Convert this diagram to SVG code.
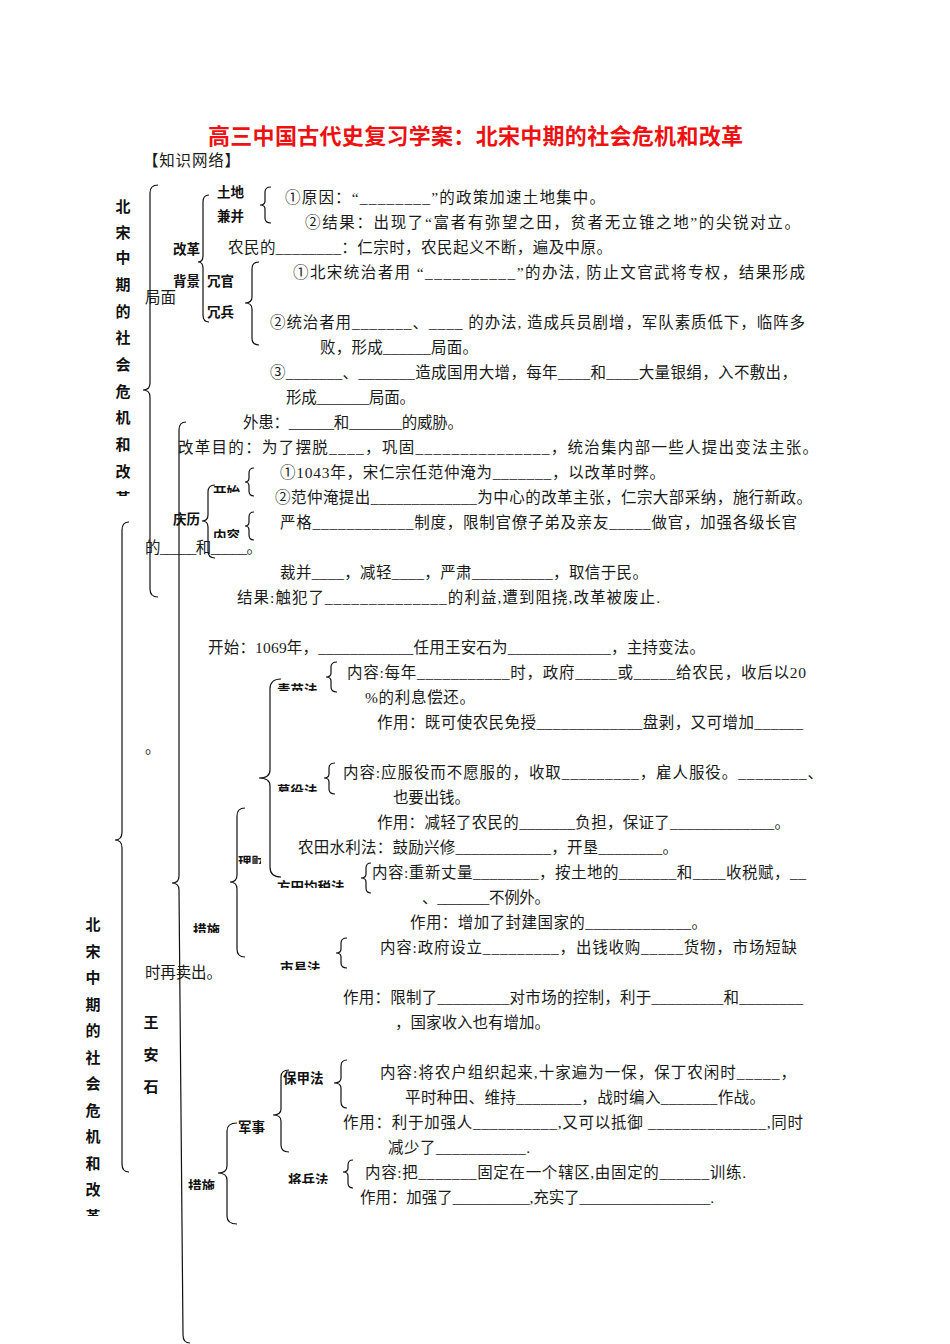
<svg xmlns="http://www.w3.org/2000/svg" width="950" height="1344" viewBox="0 0 950 1344">
<style>
.t{font-family:"Liberation Serif","Noto Sans CJK SC",serif;font-size:15.5px;fill:#1a1a1a}
.lb{font-family:"Noto Sans CJK SC",sans-serif;font-size:13.5px;font-weight:bold;fill:#111}
.v{font-family:"Noto Sans CJK SC",sans-serif;font-size:15px;font-weight:bold;fill:#111;text-anchor:middle}
.title{font-family:"Noto Sans CJK SC",sans-serif;font-size:22px;font-weight:bold;fill:#ee1111}
.br{fill:none;stroke:#111;stroke-width:1.2}
</style>
<defs>
<clipPath id="c1"><rect x="100" y="180" width="60" height="316"/></clipPath>
<clipPath id="c2"><rect x="70" y="900" width="60" height="316"/></clipPath>
<clipPath id="k1"><rect x="205" y="470" width="45" height="23"/></clipPath>
<clipPath id="k2"><rect x="205" y="520" width="45" height="18"/></clipPath>
<clipPath id="k3"><rect x="270" y="670" width="55" height="21"/></clipPath>
<clipPath id="k4"><rect x="270" y="770" width="55" height="22"/></clipPath>
<clipPath id="k5"><rect x="236" y="845" width="25" height="19"/></clipPath>
<clipPath id="k6"><rect x="270" y="870" width="90" height="18"/></clipPath>
<clipPath id="k7"><rect x="185" y="910" width="45" height="23"/></clipPath>
<clipPath id="k8"><rect x="270" y="950" width="60" height="20"/></clipPath>
<clipPath id="k9"><rect x="280" y="1160" width="60" height="24"/></clipPath>
<clipPath id="k10"><rect x="180" y="1165" width="45" height="25"/></clipPath>
</defs>
<rect width="950" height="1344" fill="#fff"/>

<g id="title"><text class="title" x="208" y="144" textLength="535" lengthAdjust="spacing">高三中国古代史复习学案：北宋中期的社会危机和改革</text></g>
<g id="subtitle"><text class="t" x="143" y="166" font-size="15.5" textLength="97" lengthAdjust="spacing">【知识网络】</text></g>

<g id="vertical-1" clip-path="url(#c1)">
<text class="v" x="123" y="212">北</text><text class="v" x="123" y="238">宋</text><text class="v" x="123" y="263">中</text><text class="v" x="123" y="290">期</text><text class="v" x="123" y="317">的</text><text class="v" x="123" y="343">社</text><text class="v" x="123" y="370">会</text><text class="v" x="123" y="397">危</text><text class="v" x="123" y="423">机</text><text class="v" x="123" y="450">和</text><text class="v" x="123" y="477">改</text><text class="v" x="123" y="504">革</text>
</g>
<g id="vertical-2" clip-path="url(#c2)">
<text class="v" x="93" y="930">北</text><text class="v" x="93" y="957">宋</text><text class="v" x="93" y="983">中</text><text class="v" x="93" y="1010">期</text><text class="v" x="93" y="1036">的</text><text class="v" x="93" y="1063">社</text><text class="v" x="93" y="1089">会</text><text class="v" x="93" y="1116">危</text><text class="v" x="93" y="1142">机</text><text class="v" x="93" y="1169">和</text><text class="v" x="93" y="1195">改</text><text class="v" x="93" y="1222">革</text>
</g>
<g id="wanganshi">
<text class="v" x="151" y="1028">王</text><text class="v" x="151" y="1060">安</text><text class="v" x="151" y="1092">石</text>
</g>

<g id="labels">
<text class="lb" x="217" y="197">土地</text>
<text class="lb" x="217" y="221">兼并</text>
<text class="lb" x="173" y="254">改革</text>
<text class="lb" x="173" y="286">背景</text>
<text class="lb" x="207" y="286">冗官</text>
<text class="lb" x="207" y="317">冗兵</text>
<text class="lb" x="173" y="524">庆历</text>
<text class="lb" x="213" y="497" clip-path="url(#k1)">开始</text>
<text class="lb" x="213" y="541" clip-path="url(#k2)">内容</text>
<text class="lb" x="277" y="695" clip-path="url(#k3)">青苗法</text>
<text class="lb" x="277" y="796" clip-path="url(#k4)">募役法</text>
<text class="lb" x="238" y="867" clip-path="url(#k5)">理财</text>
<text class="lb" x="277" y="892" clip-path="url(#k6)">方田均税法</text>
<text class="lb" x="193" y="935" clip-path="url(#k7)">措施</text>
<text class="lb" x="280" y="973" clip-path="url(#k8)">市易法</text>
<text class="lb" x="283" y="1083">保甲法</text>
<text class="lb" x="238" y="1132">军事</text>
<text class="lb" x="288" y="1185" clip-path="url(#k9)">将兵法</text>
<text class="lb" x="188" y="1191" clip-path="url(#k10)">措施</text>
</g>

<g id="content">
<text class="t" x="285" y="202.5" textLength="320" lengthAdjust="spacing">①原因：“________”的政策加速土地集中。</text>
<text class="t" x="305" y="227.5" textLength="495" lengthAdjust="spacing">②结果：出现了“富者有弥望之田，贫者无立锥之地”的尖锐对立。</text>
<text class="t" x="228" y="252.5" textLength="384" lengthAdjust="spacing">农民的________：仁宗时，农民起义不断，遍及中原。</text>
<text class="t" x="293" y="277.5" textLength="512" lengthAdjust="spacing">①北宋统治者用 “__________”的办法, 防止文官武将专权，结果形成</text>
<text class="t" x="145" y="302.5">局面</text>
<text class="t" x="270" y="327.5" textLength="535" lengthAdjust="spacing">②统治者用_______、____ 的办法, 造成兵员剧增，军队素质低下，临阵多</text>
<text class="t" x="320" y="352.5" textLength="158" lengthAdjust="spacing">败，形成______局面。</text>
<text class="t" x="270" y="377.5" textLength="527" lengthAdjust="spacing">③_______、_______造成国用大增，每年____和____大量银绢，入不敷出，</text>
<text class="t" x="286" y="402.5" textLength="129" lengthAdjust="spacing">形成_______局面。</text>
<text class="t" x="243" y="427.5" textLength="220" lengthAdjust="spacing">外患：______和_______的威胁。</text>
<text class="t" x="178" y="452.5" textLength="640" lengthAdjust="spacing">改革目的：为了摆脱____，巩固_______________，统治集内部一些人提出变法主张。</text>
<text class="t" x="280" y="477.5" textLength="385" lengthAdjust="spacing">①1043年，宋仁宗任范仲淹为_______，以改革时弊。</text>
<text class="t" x="275" y="502.5" textLength="537" lengthAdjust="spacing">②范仲淹提出_____________为中心的改革主张，仁宗大部采纳，施行新政。</text>
<text class="t" x="280" y="527.5" textLength="517" lengthAdjust="spacing">严格____________制度，限制官僚子弟及亲友_____做官，加强各级长官</text>
<text class="t" x="145" y="553" textLength="117" lengthAdjust="spacing">的_____和_____。</text>
<text class="t" x="280" y="577.5" textLength="368" lengthAdjust="spacing">裁并____，减轻____，严肃__________，取信于民。</text>
<text class="t" x="237" y="602.5" textLength="423" lengthAdjust="spacing">结果:触犯了______________的利益,遭到阻挠,改革被废止.</text>
<text class="t" x="208" y="652.5" textLength="497" lengthAdjust="spacing">开始：1069年，____________任用王安石为_____________，主持变法。</text>
<text class="t" x="347" y="677.5" textLength="459" lengthAdjust="spacing">内容:每年___________时，政府_____或_____给农民，收后以20</text>
<text class="t" x="365" y="702.5" textLength="110" lengthAdjust="spacing">%的利息偿还。</text>
<text class="t" x="377" y="727.5" textLength="426" lengthAdjust="spacing">作用：既可使农民免授_____________盘剥，又可增加______</text>
<text class="t" x="145" y="752.5">。</text>
<text class="t" x="343" y="777.5" textLength="480" lengthAdjust="spacing">内容:应服役而不愿服的，收取_________，雇人服役。________、</text>
<text class="t" x="393" y="802.5" textLength="77" lengthAdjust="spacing">也要出钱。</text>
<text class="t" x="377" y="827.5" textLength="413" lengthAdjust="spacing">作用：减轻了农民的_______负担，保证了_____________。</text>
<text class="t" x="298" y="852.5" textLength="380" lengthAdjust="spacing">农田水利法：鼓励兴修____________，开垦________。</text>
<text class="t" x="372" y="877.5" textLength="434" lengthAdjust="spacing">内容:重新丈量________，按土地的_______和____收税赋，__</text>
<text class="t" x="422" y="902.5" textLength="128" lengthAdjust="spacing">、_______不例外。</text>
<text class="t" x="410" y="927.5" textLength="297" lengthAdjust="spacing">作用：增加了封建国家的_____________。</text>
<text class="t" x="380" y="952.5" textLength="417" lengthAdjust="spacing">内容:政府设立_________，出钱收购_____货物，市场短缺</text>
<text class="t" x="145" y="977.5" textLength="77" lengthAdjust="spacing">时再卖出。</text>
<text class="t" x="343" y="1002.5" textLength="460" lengthAdjust="spacing">作用：限制了_________对市场的控制，利于_________和________</text>
<text class="t" x="395" y="1027.5" textLength="155" lengthAdjust="spacing">，国家收入也有增加。</text>
<text class="t" x="380" y="1077.5" textLength="416" lengthAdjust="spacing">内容:将农户组织起来,十家遍为一保，保丁农闲时_____，</text>
<text class="t" x="405" y="1102.5" textLength="360" lengthAdjust="spacing">平时种田、维持________，战时编入_______作战。</text>
<text class="t" x="343" y="1127.5" textLength="460" lengthAdjust="spacing">作用：利于加强人__________,又可以抵御 ______________,同时</text>
<text class="t" x="388" y="1152.5" textLength="142" lengthAdjust="spacing">减少了___________.</text>
<text class="t" x="365" y="1177.5" textLength="381" lengthAdjust="spacing">内容:把_______固定在一个辖区,由固定的______训练.</text>
<text class="t" x="360" y="1202.5" textLength="354" lengthAdjust="spacing">作用：加强了__________,充实了_________________.</text>
</g>

<g id="connectors">
<path class="br" d="M158 185 Q150 185 150 193 L150 383 Q150 390 143 390 Q150 390 150 397 L150 589 Q150 597 158 597"/>
<path class="br" d="M129 522 Q122 522 122 530 L122 832 Q122 840 115 840 Q122 840 122 848 L122 1164 Q122 1172 129 1172"/>
<path class="br" d="M186 422 Q179 422 179 430 L179 876 Q179 883 172 883 Q179 883 179 890 L183 1335 Q183 1343 190 1343"/>
<path class="br" d="M209 195 Q203 195 203 202 L203 256 Q203 262 198 262 Q203 262 203 268 L203 315 Q203 322 209 322"/>
<path class="br" d="M271 187 Q265 187 265 192 L265 201 Q265 205 260 205 Q265 205 265 209 L265 218 Q265 223 271 223"/>
<path class="br" d="M259 262 Q252 262 252 269 L252 297 Q252 303 245 303 Q252 303 252 309 L252 338 Q252 345 259 345"/>
<path class="br" d="M215 485 Q208 485 208 492 L208 515 Q208 521 202 521 Q208 521 208 527 L208 551 Q208 558 215 558"/>
<path class="br" d="M254 468 Q249 468 249 473 L249 478 Q249 482 245 482 Q249 482 249 486 L249 491 Q249 496 254 496"/>
<path class="br" d="M254 512 Q249 512 249 517 L249 522 Q249 526 245 526 Q249 526 249 530 L249 535 Q249 540 254 540"/>
<path class="br" d="M281 679 Q270 679 270 689 L270 770 Q270 778 259 778 Q270 778 270 786 L270 867 Q270 877 281 877"/>
<path class="br" d="M245 808 Q237 808 237 816 L237 875 Q237 882 230 882 Q237 882 237 889 L237 949 Q237 957 245 957"/>
<path class="br" d="M337 662 Q331 662 331 667 L331 673 Q331 677 326 677 Q331 677 331 681 L331 687 Q331 692 337 692"/>
<path class="br" d="M335 763 Q329 763 329 768 L329 774 Q329 778 324 778 Q329 778 329 782 L329 789 Q329 794 335 794"/>
<path class="br" d="M371 863 Q366 863 366 868 L366 874 Q366 878 361 878 Q366 878 366 882 L366 888 Q366 893 371 893"/>
<path class="br" d="M347 938 Q341 938 341 943 L341 949 Q341 953 336 953 Q341 953 341 957 L341 963 Q341 968 347 968"/>
<path class="br" d="M347 1060 Q341 1060 341 1066 L341 1078 Q341 1083 334 1083 Q341 1083 341 1088 L341 1102 Q341 1108 347 1108"/>
<path class="br" d="M289 1070 Q281 1070 281 1077 L281 1109 Q281 1115 273 1115 Q281 1115 281 1121 L281 1145 Q281 1152 289 1152"/>
<path class="br" d="M237 1123 Q227 1123 227 1131 L227 1166 Q227 1173 218 1173 Q227 1173 227 1180 L227 1216 Q227 1224 237 1224"/>
<path class="br" d="M353 1160 Q348 1160 348 1165 L348 1168 Q348 1172 343 1172 Q348 1172 348 1176 L348 1183 Q348 1188 353 1188"/>
</g>
</svg>
